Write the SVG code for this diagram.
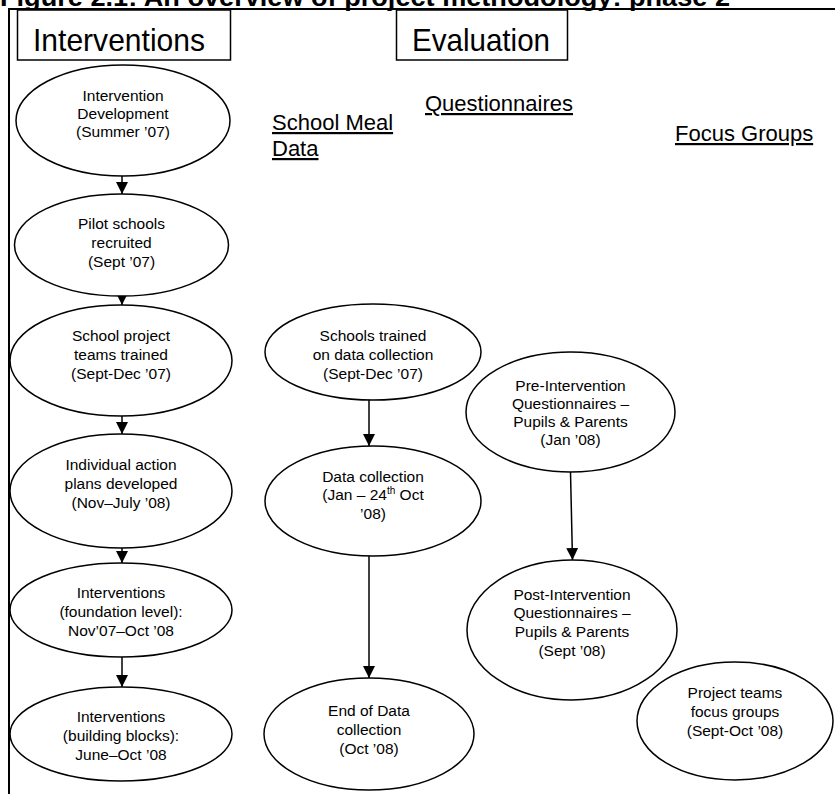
<svg xmlns="http://www.w3.org/2000/svg" width="835" height="794" viewBox="0 0 835 794">
<defs>
<marker id="ah" markerWidth="12" markerHeight="12" refX="12" refY="6" orient="auto" markerUnits="userSpaceOnUse">
<path d="M0,0 L12,6 L0,12 Z" fill="#000"/>
</marker>
<style>
.frame{stroke:#000;stroke-width:2;fill:none}
.box{fill:#fff;stroke:#000;stroke-width:1.5}
.node{fill:#fff;stroke:#000;stroke-width:1.5}
.t{font-family:"Liberation Sans",Arial,sans-serif;font-size:15.5px;fill:#000;text-anchor:middle}
.big{font-family:"Liberation Sans",Arial,sans-serif;font-size:32px;fill:#000}
.hd{font-family:"Liberation Sans",Arial,sans-serif;font-size:22px;fill:#000;text-decoration:underline}
.title{font-family:"Liberation Sans",Arial,sans-serif;font-size:26px;font-weight:bold;fill:#000}
.c{stroke:#000;stroke-width:1.5;fill:none}
</style>
</defs>
<rect width="835" height="794" fill="#fff"/>
<text class="title" x="0" y="6" textLength="730" lengthAdjust="spacingAndGlyphs">Figure 2.1: An overview of project methodology: phase 2</text>
<g id="frame">
<line class="frame" x1="9" y1="9" x2="835" y2="9"/>
<line class="frame" x1="9" y1="8" x2="9" y2="794"/>
</g>
<g id="hdr-interventions">
<rect class="box" x="17.5" y="10" width="213" height="50"/>
<text class="big" x="33" y="51" textLength="172" lengthAdjust="spacingAndGlyphs">Interventions</text>
</g>
<g id="hdr-evaluation">
<rect class="box" x="396.5" y="10" width="171" height="50"/>
<text class="big" x="412" y="51" textLength="138" lengthAdjust="spacingAndGlyphs">Evaluation</text>
</g>
<g id="lbl-meal">
<text class="hd" x="272" y="130">School Meal</text>
<text class="hd" x="272" y="156">Data</text>
</g>
<g id="lbl-quest"><text class="hd" x="425" y="111">Questionnaires</text></g>
<g id="lbl-focus"><text class="hd" x="675" y="141">Focus Groups</text></g>

<g id="connectors">
<line class="c" x1="122" y1="176" x2="122" y2="194" marker-end="url(#ah)"/>
<line class="c" x1="122" y1="296" x2="122" y2="305" marker-end="url(#ah)"/>
<line class="c" x1="122" y1="416" x2="122" y2="434" marker-end="url(#ah)"/>
<line class="c" x1="122" y1="548" x2="122" y2="563" marker-end="url(#ah)"/>
<line class="c" x1="122" y1="657" x2="122" y2="687" marker-end="url(#ah)"/>
<line class="c" x1="369" y1="400" x2="369" y2="446" marker-end="url(#ah)"/>
<line class="c" x1="369" y1="556" x2="369" y2="678" marker-end="url(#ah)"/>
<line class="c" x1="570.5" y1="472" x2="572.5" y2="560" marker-end="url(#ah)"/>
</g>

<g id="n1"><ellipse class="node" cx="123" cy="120.5" rx="107" ry="55.5"/>
<text class="t" x="123" y="101">Intervention</text><text class="t" x="123" y="119">Development</text><text class="t" x="123" y="137">(Summer ’07)</text></g>
<g id="n2"><ellipse class="node" cx="121.5" cy="245" rx="107" ry="51"/>
<text class="t" x="121.5" y="229">Pilot schools</text><text class="t" x="121.5" y="248">recruited</text><text class="t" x="121.5" y="267">(Sept ’07)</text></g>
<g id="n3"><ellipse class="node" cx="121" cy="360.5" rx="111" ry="55.5"/>
<text class="t" x="121" y="341">School project</text><text class="t" x="121" y="360">teams trained</text><text class="t" x="121" y="379">(Sept-Dec ’07)</text></g>
<g id="n4"><ellipse class="node" cx="121" cy="491" rx="111" ry="57"/>
<text class="t" x="121" y="470">Individual action</text><text class="t" x="121" y="489">plans developed</text><text class="t" x="121" y="508">(Nov–July ’08)</text></g>
<g id="n5"><ellipse class="node" cx="121" cy="610" rx="111" ry="47"/>
<text class="t" x="121" y="598">Interventions</text><text class="t" x="121" y="617">(foundation level):</text><text class="t" x="121" y="636">Nov’07–Oct ’08</text></g>
<g id="n6"><ellipse class="node" cx="121" cy="734" rx="111" ry="47"/>
<text class="t" x="121" y="722">Interventions</text><text class="t" x="121" y="741">(building blocks):</text><text class="t" x="121" y="760">June–Oct ’08</text></g>
<g id="n7"><ellipse class="node" cx="373" cy="352" rx="108" ry="48"/>
<text class="t" x="373" y="341">Schools trained</text><text class="t" x="373" y="360">on data collection</text><text class="t" x="373" y="379">(Sept-Dec ’07)</text></g>
<g id="n8"><ellipse class="node" cx="373" cy="501" rx="108" ry="55"/>
<text class="t" x="373" y="482">Data collection</text><text class="t" x="373" y="500">(Jan – 24<tspan font-size="10" dy="-6">th</tspan><tspan dy="6"> Oct</tspan></text><text class="t" x="373" y="519">’08)</text></g>
<g id="n9"><ellipse class="node" cx="369" cy="734" rx="105" ry="56"/>
<text class="t" x="369" y="716">End of Data</text><text class="t" x="369" y="735">collection</text><text class="t" x="369" y="754">(Oct ’08)</text></g>
<g id="n10"><ellipse class="node" cx="570.5" cy="412" rx="104.5" ry="60"/>
<text class="t" x="570.5" y="391">Pre-Intervention</text><text class="t" x="570.5" y="409">Questionnaires –</text><text class="t" x="570.5" y="427">Pupils &amp; Parents</text><text class="t" x="570.5" y="445">(Jan ’08)</text></g>
<g id="n11"><ellipse class="node" cx="572" cy="630" rx="105" ry="70"/>
<text class="t" x="572" y="600">Post-Intervention</text><text class="t" x="572" y="618">Questionnaires –</text><text class="t" x="572" y="637">Pupils &amp; Parents</text><text class="t" x="572" y="656">(Sept ’08)</text></g>
<g id="n12"><ellipse class="node" cx="735" cy="721" rx="98" ry="59"/>
<text class="t" x="735" y="698">Project teams</text><text class="t" x="735" y="717">focus groups</text><text class="t" x="735" y="736">(Sept-Oct ’08)</text></g>
</svg>
